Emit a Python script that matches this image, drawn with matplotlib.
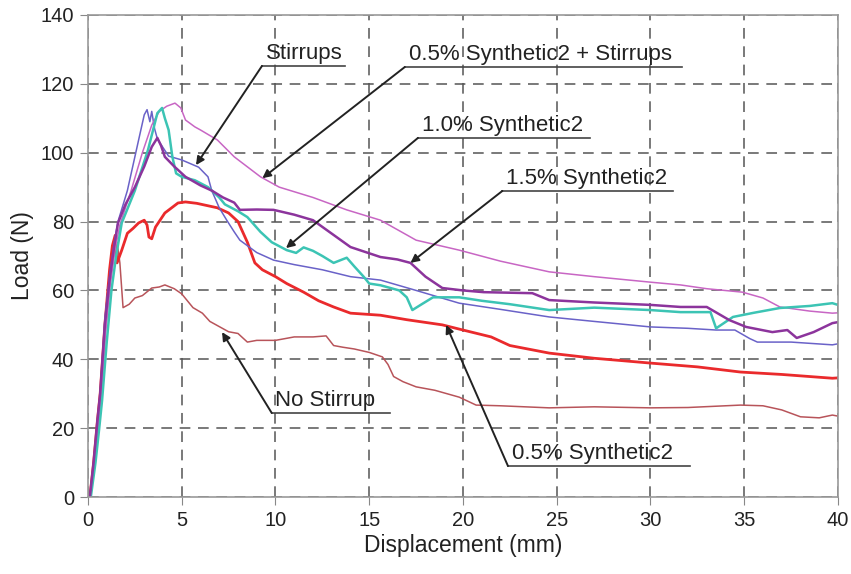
import matplotlib.pyplot as plt

plt.rcParams['font.family'] = ['Liberation Sans', 'DejaVu Sans']

# Load-displacement curves
no_stirrup_x = [0, 0.1, 0.3, 0.5, 0.65, 0.9, 1.15, 1.35, 1.55, 1.7, 1.87, 2.2, 2.5, 2.9,
                3.4, 3.8, 4.1, 4.6, 5.0, 5.3, 5.6, 6.1, 6.5, 7.0, 7.5, 8.0, 8.5, 9.0,
                10.0, 11.0, 12.0, 12.7, 13.1, 13.6, 14.2, 15.0, 15.7, 16.0, 16.3, 16.8,
                17.5, 18.5, 19.8, 20.7, 22, 24.6, 27, 30, 32, 34.8, 36, 37, 38, 39, 39.7, 40]
no_stirrup_y = [0, 0, 10, 22, 30, 50, 62, 70, 74, 68, 55, 56, 57.8, 58.5,
                60.7, 61, 61.6, 60.5, 59, 57, 55, 53.4, 51, 49.5, 48, 47.5, 45, 45.5,
                45.5, 46.5, 46.5, 46.8, 44, 43.5, 43, 42, 40.7, 38.5, 35, 33.5,
                32, 31, 29, 26.7, 26.5, 25.9, 26.2, 25.9, 26.0, 26.7, 26.5, 25.3, 23.3, 23.0, 23.8, 23.5]

syn05_x = [0, 0.1, 0.3, 0.5, 0.65, 0.9, 1.15, 1.3, 1.45, 1.55, 1.8, 2.1, 2.4, 2.7, 3.0,
           3.15, 3.25, 3.4, 3.6, 4.1, 4.8, 5.2, 5.8, 6.9, 7.5, 8.0, 8.5, 8.9, 9.3,
           10.0, 10.6, 11.5, 12.3, 13.1, 14.0, 15.6, 17.0, 18.9, 20.0, 21.5, 22.5,
           24.6, 27, 30, 32.5, 34.8, 37, 39.7, 40]
syn05_y = [0, 0, 10, 22, 30, 50, 66, 73, 76, 68, 71.7, 76.6, 78, 79.6, 80.4,
           79, 75.5, 75, 78.4, 82.5, 85.4, 85.7, 85.3, 84, 82.5, 80, 74, 68, 66,
           64, 62, 59.5, 57, 55.2, 53.4, 52.8, 51.5, 50, 48.5, 46.5, 44,
           41.8, 40.3, 38.9, 37.8, 36.3, 35.6, 34.5, 34.6]

stirrups_x = [0, 0.1, 0.3, 0.5, 0.65, 0.9, 1.15, 1.4, 1.6, 2.1, 2.7, 3.0, 3.15, 3.3,
              3.4, 3.55, 3.7, 4.3, 5.0, 5.9, 6.4, 6.6, 7.0, 7.4, 7.8, 8.1, 9.0, 9.9,
              11, 12.5, 14, 15.6, 17.5, 19.8, 22, 24.6, 27, 30, 32, 33.5, 34.5,
              35.3, 35.7, 37.5, 39.7, 40]
stirrups_y = [0, 0, 10, 22, 30, 52, 64, 74, 80, 89, 103.7, 111, 112.5, 109,
              112, 107, 104, 99, 97.9, 95.8, 93, 89, 84, 80.4, 77, 74.6, 71, 68.8,
              67.5, 66, 64, 63, 60, 56.3, 54.5, 52.3, 51, 49.4, 49, 48.5, 48.5,
              46, 45, 45, 44.2, 44.5]

syn10_x = [0, 0.15, 0.4, 0.6, 0.75, 1.0, 1.25, 1.5, 1.8, 2.5, 3.2, 3.7, 3.95, 4.1,
           4.3, 4.5, 4.7, 5.0, 5.7, 6.4, 7.0, 7.3, 8.0, 8.5, 9.2, 9.8, 10.6, 11.1,
           11.5, 12.0, 12.5, 13.1, 13.8, 14.2, 14.7, 15.0, 15.6, 16.6, 17.0, 17.3,
           17.8, 18.4, 19.8, 21, 22.5, 24.6, 27, 30, 31.6, 33.2, 33.5, 34.4, 35.5,
           36.9, 38.5, 39.7, 40]
syn10_y = [0, 0, 10, 20, 28, 45, 60, 70, 79.6, 89, 100.8, 111.5, 113, 110,
           106.6, 98.8, 94, 93, 92, 90, 87, 85, 83, 81.3, 77, 74, 71.7, 70.9,
           72.5, 71.5, 70, 68, 69.5, 67, 64, 62, 61.5, 60, 58, 54.3,
           56, 58, 58, 57, 56, 54.3, 55, 54.3, 53.7, 53.7, 49, 52.3, 53.5,
           54.9, 55.5, 56.3, 55.8]

syn05_stirrups_x = [0, 0.12, 0.35, 0.55, 0.7, 0.95, 1.2, 1.45, 1.7, 2.3, 2.9, 3.4, 3.8,
                    4.2, 4.64, 4.95, 5.2, 5.7, 6.0, 6.9, 7.8, 9.2, 10.2, 12, 13.8,
                    15.6, 17.5, 19.8, 22, 24.6, 27, 30, 31.6, 33, 34.9, 36, 36.9,
                    38.5, 39.7, 40]
syn05_stirrups_y = [0, 0, 10, 21, 28, 48, 62, 72, 79, 89, 100, 108, 112,
                    113.5, 114.4, 113, 109.5, 107.5, 106.6, 103.7, 98.8, 93, 90, 87, 83.4,
                    80.4, 74.6, 71.7, 68.5, 65.4, 64, 62.4, 61.6, 60.5, 59.5, 57.8, 55.2,
                    54, 53.4, 53.5]

syn15_x = [0, 0.1, 0.3, 0.5, 0.65, 0.9, 1.15, 1.4, 1.6, 2.0, 2.5, 3.0, 3.4, 3.7,
           3.9, 4.1, 4.6, 5.2, 6.0, 6.6, 7.2, 7.8, 8.1, 9.0, 9.9, 11, 12, 13, 14,
           15.6, 16.5, 17.2, 18.0, 18.9, 20, 21.1, 23.7, 24.6, 27, 30, 31.6, 33,
           34.2, 35.1, 36.5, 37.3, 37.8, 38.7, 39.7, 40]
syn15_y = [0, 0, 10, 22, 30, 50, 63, 73, 79.6, 85, 90, 96, 101.7, 104.3,
           102, 98.8, 96, 93, 90.5, 89, 87, 85.5, 83.4, 83.5, 83.4, 82, 80.4, 76.5, 72.6,
           69.7, 69, 68, 64, 60.7, 60, 59.5, 59.2, 57.2, 56.5, 55.8, 55.2, 55.2,
           51.4, 49.4, 47.9, 48.5, 46.2, 47.9, 50.5, 50.8]

x_ticks = [0, 5, 10, 15, 20, 25, 30, 35, 40]
y_ticks = [0, 20, 40, 60, 80, 100, 120, 140]

fig = plt.figure(figsize=(8.51, 5.74), dpi=100)
ax = fig.add_axes([0.1034, 0.1341, 0.8813, 0.8398])

ax.plot(no_stirrup_x, no_stirrup_y, color='#b8545a', lw=1.1)
ax.plot(syn05_x, syn05_y, color='#ea2a2c', lw=2.0)
ax.plot(stirrups_x, stirrups_y, color='#6a62c8', lw=1.1)
ax.plot(syn05_stirrups_x, syn05_stirrups_y, color='#c866c4', lw=1.1)
ax.plot(syn10_x, syn10_y, color='#3cc4b4', lw=1.8)
ax.plot(syn15_x, syn15_y, color='#8c349c', lw=1.8)

ax.set_xlim(0, 40)
ax.set_ylim(0, 140)
ax.set_xticks(x_ticks)
ax.set_yticks(y_ticks)
ax.grid(True, color='#555555', lw=1.1, linestyle=(0, (7, 5)))
ax.set_axisbelow(True)
for sp in ax.spines.values():
    sp.set_color('#999999')
    sp.set_linewidth(1.2)
ax.tick_params(direction='out', length=6, color='#888888', labelsize=14.5,
               labelcolor='#222222', pad=4)
ax.set_xlabel('Displacement (mm)', fontsize=16.5, color='#222222', labelpad=3)
ax.set_ylabel('Load (N)', fontsize=16.5, color='#222222', labelpad=5)

# label, arrow tip, leader start (left end of underline), underline end
labels = [
    ('Stirrups', (5.76, 96.4), (9.28, 125.2), 13.7),
    ('0.5% Synthetic2 + Stirrups', (9.3, 92.6), (16.9, 124.9), 31.7),
    ('1.0% Synthetic2', (10.56, 72.3), (17.6, 104.3), 26.8),
    ('1.5% Synthetic2', (17.2, 68.0), (22.1, 88.9), 31.2),
    ('No Stirrup', (7.15, 47.9), (9.8, 24.4), 16.1),
    ('0.5% Synthetic2', (19.1, 50.0), (22.4, 9.0), 32.1),
]
for text, tip, start, end in labels:
    ax.annotate('', xy=tip, xytext=start,
                arrowprops=dict(arrowstyle='-|>', color='#222222', lw=1.4,
                                mutation_scale=12, shrinkA=0, shrinkB=0))
    ax.plot([start[0], end], [start[1], start[1]], color='#444444', lw=1.2)
    ax.text(start[0] + 0.2, start[1] + 0.6, text, fontsize=16, color='#222222',
            ha='left', va='bottom')

fig.savefig('out.png', dpi=100)
